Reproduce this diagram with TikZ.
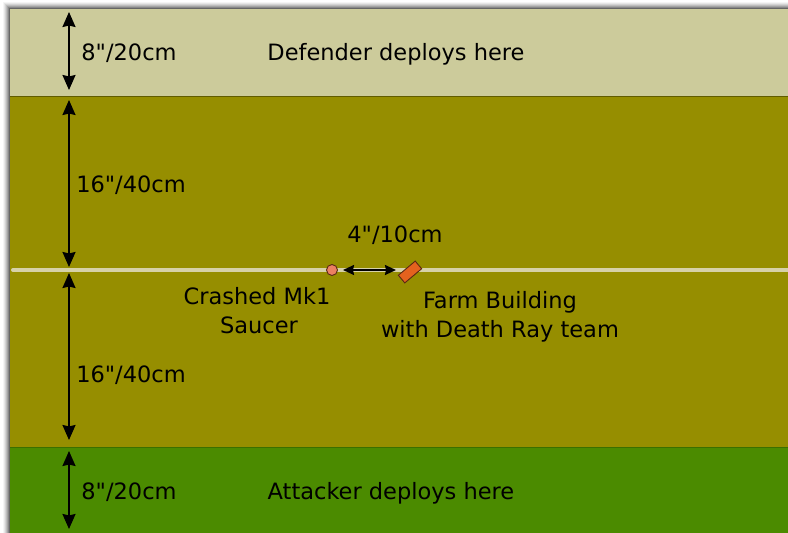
\documentclass[tikz,border=0pt]{standalone}
\usepackage{fontspec}
\setmainfont{DejaVu Sans}[Ligatures=TeXOff]
\usetikzlibrary{arrows.meta}
\definecolor{beigeband}{RGB}{204,203,155}
\definecolor{oliveband}{RGB}{150,142,0}
\definecolor{greenband}{RGB}{75,139,0}
\definecolor{midcol}{RGB}{214,209,168}
\definecolor{saucercol}{RGB}{236,128,98}
\definecolor{farmcol}{RGB}{228,98,30}
\definecolor{outline}{RGB}{90,40,20}
\begin{document}
\begin{tikzpicture}[x=1pt,y=-1pt,
  lbl/.style={anchor=base, inner sep=0pt, font=\fontsize{22.5}{29}\selectfont},
  dimarrow/.style={line width=2pt, {Stealth[width=13pt,length=15pt,inset=1.5pt]}-{Stealth[width=13pt,length=15pt,inset=1.5pt]}},
  harrow/.style={line width=1.6pt, {Stealth[width=10pt,length=11pt,inset=1pt]}-{Stealth[width=10pt,length=11pt,inset=1pt]}},
]
\useasboundingbox (0,0) rectangle (788,533);
\fill[white] (0,0) rectangle (788,533);
% soft shadow
\foreach \i/\o in {7/0.04,6/0.06,5/0.08,4/0.10,3/0.13,2/0.17,1/0.22}{
  \fill[black,opacity=\o] (10-\i,9-\i) rectangle (788,533);
}
% bands
\fill[beigeband] (10,9) rectangle (788,96);
\fill[oliveband] (10,96) rectangle (788,447);
\fill[greenband] (10,447) rectangle (788,533);
\draw[black!35!oliveband,line width=0.8pt] (10,96) -- (788,96);
\draw[black!20!greenband,line width=0.6pt] (10,447) -- (788,447);
% border
\draw[gray!80!black,line width=1.2pt] (9.5,533) -- (9.5,8.5) -- (788,8.5);
% midline
\coordinate (ml) at (13,270);
\coordinate (mr) at (788,270);
\draw[midcol,line width=4pt,line cap=round] (ml) -- (mr);
% dimension arrows
\coordinate (a1t) at (69,12);  \coordinate (a1b) at (69,90);
\coordinate (a2t) at (69,100); \coordinate (a2b) at (69,267);
\coordinate (a3t) at (69,273); \coordinate (a3b) at (69,440);
\coordinate (a4t) at (69,451); \coordinate (a4b) at (69,529);
\draw[dimarrow] (a1t) -- (a1b);
\draw[dimarrow] (a2t) -- (a2b);
\draw[dimarrow] (a3t) -- (a3b);
\draw[dimarrow] (a4t) -- (a4b);
% labels
\node[lbl] (d1) at (129,60) {8"/20cm};
\node[lbl] (def) at (396,60) {Defender deploys here};
\node[lbl] (d2) at (131,192) {16"/40cm};
\node[lbl] (d3) at (131,382) {16"/40cm};
\node[lbl] (d4) at (129,499) {8"/20cm};
\node[lbl] (att) at (391,499) {Attacker deploys here};
\node[lbl] (dist) at (395,242) {4"/10cm};
\node[lbl] (sauclbl1) at (257,304) {Crashed Mk1};
\node[lbl] (sauclbl2) at (259,333) {Saucer};
\node[lbl] (farmlbl1) at (500,308) {Farm Building};
\node[lbl] (farmlbl2) at (500,337) {with Death Ray team};
% markers
\node[circle, minimum size=11pt, inner sep=0pt, fill=saucercol, draw=outline, line width=0.9pt] (saucer) at (332,270) {};
\node[rectangle, minimum width=22pt, minimum height=10pt, inner sep=0pt, rotate=40, fill=farmcol, draw=outline, line width=0.9pt] (farm) at (410,272) {};
\coordinate (h1) at (343,270);
\coordinate (h2) at (396,270);
\draw[harrow] (h1) -- (h2);
\end{tikzpicture}
\end{document}
